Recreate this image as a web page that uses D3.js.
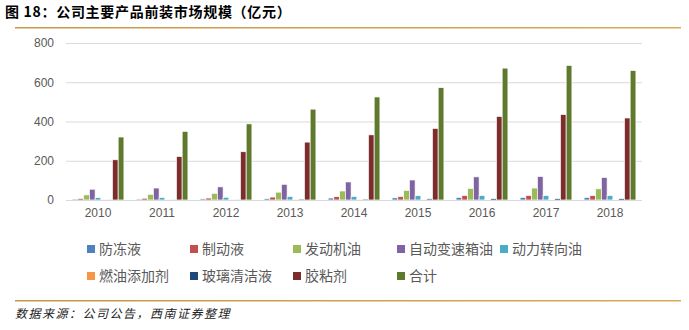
<!DOCTYPE html>
<html><head><meta charset="utf-8">
<script src="https://cdn.jsdelivr.net/npm/d3@7"></script>
<style>
body{margin:0;background:#fff;}
svg{display:block;font-family:"Noto Sans CJK SC","Noto Sans",sans-serif;}
</style></head><body>
<svg id="c" width="689" height="330"></svg>
<script>
const years = ["2010","2011","2012","2013","2014","2015","2016","2017","2018"];
const seriesNames = ["防冻液","制动液","发动机油","自动变速箱油","动力转向油","燃油添加剂","玻璃清洁液","胶粘剂","合计"];
const antifreeze = [5,5,6,7,10,11,13,13,13];
const brakeFluid = [8,9,10,15,17,18,23,23,22];
const engineOil = [26,29,34,40,46,49,59,61,57];
const atf = [55,61,67,80,92,102,118,120,115];
const powerSteering = [12,13,14,18,18,22,23,23,23];
const fuelAdditive = [1,1,1,1,1,1,2,2,2];
const glassCleaner = [4,4,4,5,5,6,7,7,7];
const adhesive = [205,222,246,295,332,365,426,436,418];
const total = [321,350,388,463,525,573,672,686,660];
const yTicks = [0,200,400,600,800];

const values = [antifreeze,brakeFluid,engineOil,atf,powerSteering,fuelAdditive,glassCleaner,adhesive,total];
const colors = ["#4f81bd","#c0504d","#9bbb59","#8064a2","#4bacc6","#f79646","#1f497d","#7b2c2b","#5f7a2f"];

const svg = d3.select("#c");
// title
svg.append("text").attr("x",5).attr("y",17).attr("font-size",14).attr("font-weight","bold").attr("fill","#000")
  .attr("letter-spacing",0.7)
  .text("图 18：公司主要产品前装市场规模（亿元）");
const grad = svg.append("defs").append("linearGradient").attr("id","g1");
grad.append("stop").attr("offset","0%").attr("stop-color","#c9974a");
grad.append("stop").attr("offset","100%").attr("stop-color","#dba85a");
svg.append("rect").attr("x",15).attr("y",27).attr("width",666).attr("height",1.5).attr("fill","url(#g1)");
svg.append("rect").attr("x",15).attr("y",300).attr("width",666).attr("height",1.5).attr("fill","url(#g1)");
svg.append("text").attr("x",15).attr("y",318).attr("font-size",12).attr("font-style","italic").attr("fill","#222")
  .attr("letter-spacing",1.5)
  .text("数据来源：公司公告，西南证券整理");

const x0 = d3.scaleBand().domain(years).range([66,642]).paddingInner(0.19).paddingOuter(0.095);
const x1 = d3.scaleBand().domain(seriesNames).range([0,x0.bandwidth()]);
const y = d3.scaleLinear().domain([0,800]).range([200,43]);

// gridlines
svg.append("g").selectAll("line").data(yTicks).join("line")
  .attr("x1",66).attr("x2",642).attr("y1",d=>y(d)+0.5).attr("y2",d=>y(d)+0.5)
  .attr("stroke","#d9d9d9").attr("stroke-width",1);

const yAxis = svg.append("g").attr("transform","translate(60,0)")
  .call(d3.axisLeft(y).tickValues(yTicks).tickSize(0).tickPadding(6));
yAxis.select(".domain").remove();
yAxis.selectAll("text").attr("font-size",12).attr("fill","#595959").attr("font-family","'Liberation Sans',Arial,sans-serif");

// bars
const groups = svg.append("g").selectAll("g").data(years).join("g")
  .attr("transform",d=>`translate(${x0(d)},0)`);
groups.selectAll("rect").data((d,i)=>seriesNames.map((s,j)=>({s,j,v:values[j][i]}))).join("rect")
  .attr("x",d=>x1(d.s)).attr("width",x1.bandwidth())
  .attr("y",d=>y(d.v)).attr("height",d=>y(0)-y(d.v))
  .attr("fill",d=>colors[d.j]).attr("stroke","#fff").attr("stroke-width",0.7);

// baseline
svg.append("line").attr("x1",66).attr("x2",642).attr("y1",200.5).attr("y2",200.5).attr("stroke","#d9d9d9");

const xAxis = svg.append("g").attr("transform","translate(0,200)")
  .call(d3.axisBottom(x0).tickSize(0).tickPadding(8));
xAxis.select(".domain").remove();
xAxis.selectAll("text").attr("font-size",12).attr("fill","#595959").attr("font-family","'Liberation Sans',Arial,sans-serif");

// legend
const legX = [87,190,293,397,500];
const legend = svg.append("g").selectAll("g").data(seriesNames).join("g")
  .attr("transform",(d,i)=>{
    const row = i<5?0:1, col = i<5?i:i-5;
    return `translate(${legX[col]},${row===0?249:276})`;
  });
legend.append("rect").attr("x",0).attr("y",-4).attr("width",8).attr("height",8).attr("fill",(d,i)=>colors[i]);
legend.append("text").attr("x",12).attr("y",5).attr("font-size",14).attr("fill","#595959").text(d=>d);
</script>
</body></html>
